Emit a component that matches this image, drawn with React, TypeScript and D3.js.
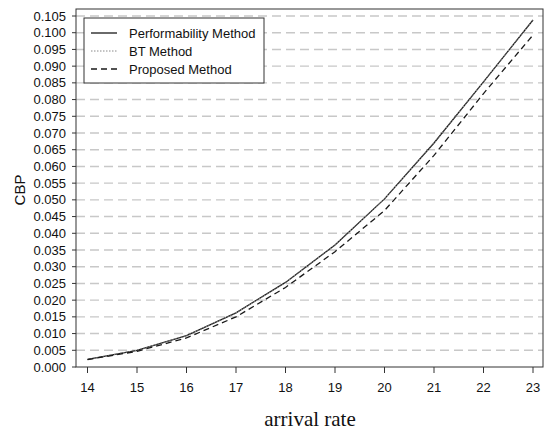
import * as d3 from "d3";

const arrivalRates = [14, 15, 16, 17, 18, 19, 20, 21, 22, 23];
const performability = [0.0023, 0.005, 0.0094, 0.0162, 0.0253, 0.0365, 0.0503, 0.067, 0.0853, 0.1038];
const btMethod = [0.0023, 0.005, 0.0094, 0.0162, 0.0253, 0.0365, 0.0503, 0.067, 0.0853, 0.1038];
const proposed = [0.0022, 0.0047, 0.0087, 0.015, 0.0238, 0.0345, 0.0468, 0.0633, 0.0818, 0.0993];
const yTicks = d3.range(0, 22).map((i) => i * 0.005);
const legendNames = ["Performability Method", "BT Method", "Proposed Method"];

const W = 550;
const H = 436;
const left = 76;
const right = 543;
const top = 9;
const bottom = 367;

export default function App() {
  const x = d3.scaleLinear().domain([14, 23]).range([87.5, 533]);
  const y = d3.scaleLinear().domain([0, 0.105]).range([bottom, 16]);

  const line = d3
    .line<number>()
    .x((_, i) => x(arrivalRates[i]))
    .y((d) => y(d));

  const series = [
    { name: legendNames[0], values: performability, dash: "none", color: "#1a1a1a", w: 1.3 },
    { name: legendNames[1], values: btMethod, dash: "1.5,1.5", color: "#888", w: 1 },
    { name: legendNames[2], values: proposed, dash: "6,4", color: "#1a1a1a", w: 1.3 },
  ];

  const font = "Liberation Sans, Arial, sans-serif";

  return (
    <svg
      width={W}
      height={H}
      style={{ position: "absolute", left: 0, top: 0, background: "#fff" }}
    >
      <rect x={0} y={0} width={W} height={H} fill="#fff" />
      {/* grid */}
      {yTicks.slice(1).map((t) => (
        <line
          key={t}
          x1={left}
          x2={right}
          y1={y(t)}
          y2={y(t)}
          stroke="#c8c8c8"
          strokeWidth={1.4}
          strokeDasharray="9,5"
        />
      ))}
      {/* lines */}
      {series.map((s) => (
        <path
          key={s.name}
          d={line(s.values) ?? ""}
          fill="none"
          stroke={s.color}
          strokeWidth={s.w}
          strokeDasharray={s.dash}
        />
      ))}
      {/* frame */}
      <rect
        x={left}
        y={top}
        width={right - left}
        height={bottom - top}
        fill="none"
        stroke="#333"
        strokeWidth={1}
      />
      {/* y axis */}
      {yTicks.map((t) => (
        <g key={t}>
          <line x1={left - 4} x2={left} y1={y(t)} y2={y(t)} stroke="#333" />
          <text
            x={66}
            y={y(t)}
            dy="0.35em"
            textAnchor="end"
            fontFamily={font}
            fontSize={13}
            fill="#111"
          >
            {d3.format(".3f")(t)}
          </text>
        </g>
      ))}
      {/* x axis */}
      {arrivalRates.map((r) => (
        <g key={r}>
          <line x1={x(r)} x2={x(r)} y1={bottom} y2={bottom + 6} stroke="#333" />
          <text
            x={x(r)}
            y={392}
            textAnchor="middle"
            fontFamily={font}
            fontSize={13}
            fill="#111"
          >
            {r}
          </text>
        </g>
      ))}
      <text
        transform={`translate(25,190) rotate(-90)`}
        textAnchor="middle"
        fontFamily={font}
        fontSize={15}
        fill="#111"
      >
        CBP
      </text>
      <text
        x={310}
        y={426}
        textAnchor="middle"
        fontFamily="Liberation Serif, Times New Roman, serif"
        fontSize={21}
        fill="#111"
      >
        arrival rate
      </text>
      {/* legend */}
      <rect x={84} y={18} width={180} height={65} fill="#fff" stroke="#333" />
      {series.map((s, i) => (
        <g key={s.name}>
          <line
            x1={91}
            x2={117}
            y1={33 + i * 18}
            y2={33 + i * 18}
            stroke={s.color}
            strokeWidth={s.w}
            strokeDasharray={s.dash}
          />
          <text
            x={129}
            y={33 + i * 18}
            dy="0.35em"
            fontFamily={font}
            fontSize={13}
            fill="#111"
          >
            {s.name}
          </text>
        </g>
      ))}
    </svg>
  );
}
